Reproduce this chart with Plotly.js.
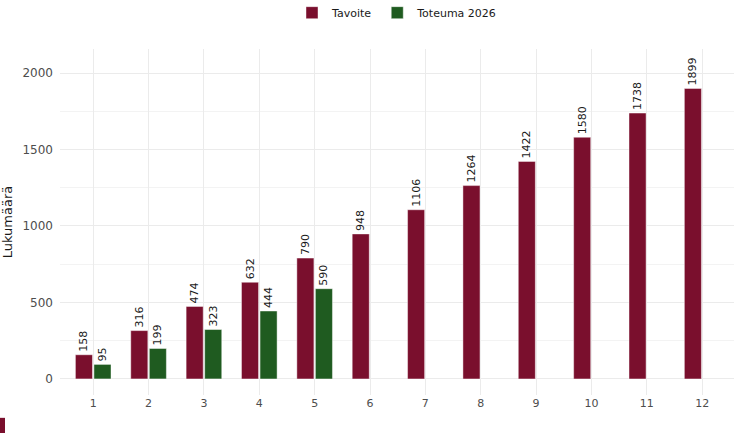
<!DOCTYPE html>
<html>
<head>
<meta charset="utf-8">
<script src="https://cdn.plot.ly/plotly-3.0.1.min.js"></script>
<style>html,body{margin:0;padding:0;background:#fff;}#chart{width:734px;height:433px;}</style>
</head>
<body>
<div id="chart"></div>
<script>
var months = [1,2,3,4,5,6,7,8,9,10,11,12];
var tavoite = [158,316,474,632,790,948,1106,1264,1422,1580,1738,1899];
var toteuma = [95,199,323,444,590,null,null,null,null,null,null,null];
var seriesNames = ["Tavoite","Toteuma 2026"];
var yTitle = "Lukumäärä";

var colTav = "#7a0f2d";
var colTot = "#1f5b20";
var font = "DejaVu Sans, sans-serif";

function lbl(arr){ return arr.map(function(v){ return v===null ? "" : String(v); }); }

var traces = [
  {type:"bar", name:seriesNames[0], x:months, y:tavoite, text:lbl(tavoite),
   textposition:"outside", textangle:-90, cliponaxis:false,
   textfont:{family:font,size:11,color:"#1a1a1a"},
   marker:{color:colTav, line:{color:"rgba(255,255,255,0.55)", width:0.8}}},
  {type:"bar", name:seriesNames[1], x:months, y:toteuma, text:lbl(toteuma),
   textposition:"outside", textangle:-90, cliponaxis:false,
   textfont:{family:font,size:11,color:"#1a1a1a"},
   marker:{color:colTot, line:{color:"rgba(255,255,255,0.55)", width:0.8}}}
];

var layout = {
  width:734, height:433,
  margin:{l:60, r:0, t:49, b:38, autoexpand:false},
  paper_bgcolor:"#fff", plot_bgcolor:"#fff",
  font:{family:font, size:12, color:"#4d4d4d"},
  barmode:"group", bargap:0.33, bargroupgap:0.08,
  uniformtext:{mode:"show", minsize:11},
  showlegend:true,
  legend:{orientation:"h", x:0.5, xanchor:"center", y:1.105, yanchor:"middle",
          font:{family:font,size:11,color:"#1a1a1a"}, itemwidth:30},
  xaxis:{range:[0.4,12.575], tickvals:months, ticktext:months.map(String),
         showgrid:true, gridcolor:"#ebebeb", gridwidth:1, zeroline:false,
         ticks:"", showline:false, tickfont:{family:font,size:11,color:"#4d4d4d"}},
  yaxis:{range:[-105,2157], tickvals:[0,500,1000,1500,2000],
         showgrid:true, gridcolor:"#ebebeb", gridwidth:1, zeroline:false,
         minor:{tickvals:[250,750,1250,1750], showgrid:true, gridcolor:"#f3f3f3", gridwidth:1},
         ticks:"", showline:false, ticklabelstandoff:6,
         tickfont:{family:font,size:12,color:"#4d4d4d"},
         title:{text:yTitle, font:{family:font,size:13,color:"#1a1a1a"}, standoff:8}},
  shapes:[{type:"rect", xref:"paper", yref:"paper",
           x0:-60/674, x1:-55/674, y0:-0.11, y1:-0.066,
           fillcolor:colTav, line:{width:0}}]
};

Plotly.newPlot("chart", traces, layout, {displayModeBar:false, staticPlot:true});
</script>
</body>
</html>
